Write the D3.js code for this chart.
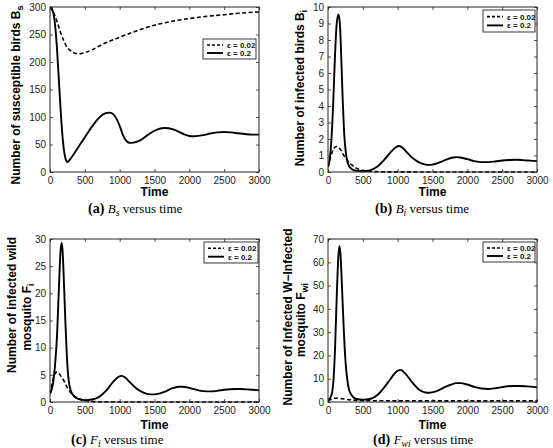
<!DOCTYPE html>
<html><head><meta charset="utf-8">
<script src="https://cdn.jsdelivr.net/npm/d3@7"></script>
<style>body{margin:0;background:#fff}</style>
</head><body>
<svg id="chart" width="553" height="448"></svg>
<script>
// ---------- data ----------
const timeTicks = [0, 500, 1000, 1500, 2000, 2500, 3000];
const legendLabels = ["\u03b5 = 0.02", "\u03b5 = 0.2"];

// (a) susceptible birds Bs
const tBsLow = [0, 50, 100, 150, 200, 250, 300, 350, 400, 450, 500, 600, 750, 1000, 1250, 1500, 1750, 2000, 2250, 2500, 2750, 3000];
const bsLow  = [300, 290, 274, 254, 238, 226, 220, 216.5, 215, 215.3, 217, 222, 232, 245, 257, 267, 274, 279, 283, 286, 289, 291];
const tBsHigh = [0, 25, 50, 75, 100, 125, 150, 175, 200, 225, 245, 270, 300, 350, 400, 500, 600, 700, 800, 850, 900, 950, 1000, 1050, 1100, 1150, 1200, 1300, 1400, 1500, 1600, 1650, 1700, 1800, 1900, 2000, 2050, 2100, 2200, 2300, 2400, 2500, 2600, 2700, 2800, 2900, 3000];
const bsHigh  = [300, 297, 288, 265, 225, 172, 118, 72, 40, 23, 18, 20, 25, 34, 44, 63, 82, 98, 107, 108, 106, 98, 84, 66, 56, 53, 53.5, 58, 67, 75, 79.5, 80, 79.5, 76, 70, 65.5, 65, 65.3, 67, 70, 72, 72.8, 72, 70.5, 69, 68, 68];

// (b) infected birds Bi
const tBiLow = [0, 30, 60, 90, 120, 150, 180, 220, 260, 300, 350, 400, 450, 500, 600, 700, 800, 1000, 3000];
const biLow  = [0.3, 0.8, 1.2, 1.45, 1.55, 1.5, 1.35, 1.05, 0.8, 0.6, 0.4, 0.25, 0.15, 0.09, 0.04, 0.02, 0.01, 0.005, 0.003];
const tBiHigh = [0, 25, 50, 75, 100, 125, 150, 170, 190, 210, 230, 255, 280, 300, 350, 400, 500, 600, 700, 800, 900, 975, 1020, 1060, 1120, 1200, 1300, 1400, 1450, 1500, 1600, 1700, 1800, 1850, 1900, 2000, 2100, 2200, 2300, 2400, 2500, 2600, 2700, 2800, 2900, 3000];
const biHigh  = [0.3, 0.8, 2, 4.2, 7, 9, 9.55, 9, 7, 4.5, 2.5, 1.2, 0.6, 0.38, 0.15, 0.08, 0.05, 0.1, 0.3, 0.7, 1.2, 1.5, 1.58, 1.5, 1.25, 0.9, 0.6, 0.45, 0.43, 0.45, 0.58, 0.75, 0.88, 0.9, 0.88, 0.78, 0.66, 0.6, 0.6, 0.64, 0.7, 0.73, 0.74, 0.72, 0.69, 0.66];

// (c) infected wild mosquito Fi
const tFiLow = [0, 25, 50, 75, 100, 125, 150, 200, 250, 300, 350, 400, 450, 500, 600, 700, 800, 1000, 3000];
const fiLow  = [1.5, 3, 4.5, 5.3, 5.5, 5.3, 4.9, 3.9, 2.6, 1.7, 1.1, 0.7, 0.45, 0.3, 0.12, 0.05, 0.02, 0.01, 0.005];
const tFiHigh = [0, 50, 80, 100, 125, 150, 165, 180, 200, 220, 240, 260, 280, 300, 350, 400, 500, 600, 700, 800, 900, 980, 1030, 1080, 1150, 1250, 1350, 1450, 1550, 1650, 1750, 1850, 1900, 2000, 2100, 2200, 2300, 2400, 2500, 2650, 2750, 2850, 3000];
const fiHigh  = [1.5, 4, 8, 12, 20, 27.5, 29.3, 28, 22, 15, 9, 5, 3, 2, 1, 0.6, 0.35, 0.45, 0.9, 2, 3.6, 4.6, 4.8, 4.5, 3.6, 2.4, 1.7, 1.4, 1.5, 1.9, 2.5, 2.8, 2.8, 2.6, 2.25, 2.0, 1.95, 2.05, 2.25, 2.4, 2.38, 2.3, 2.15];

// (d) infected W-infected mosquito Fwi
const tFwiLow = [0, 50, 100, 150, 200, 300, 400, 500, 1000, 2000, 3000];
const fwiLow  = [0.5, 1.2, 1.6, 1.6, 1.4, 1.0, 0.7, 0.55, 0.5, 0.5, 0.5];
const tFwiHigh = [0, 50, 80, 100, 125, 150, 165, 180, 200, 225, 250, 275, 300, 350, 400, 500, 600, 700, 800, 900, 980, 1040, 1100, 1200, 1300, 1400, 1450, 1550, 1650, 1750, 1850, 1900, 2000, 2100, 2200, 2300, 2400, 2500, 2650, 2750, 2850, 3000];
const fwiHigh  = [0.5, 3, 10, 22, 45, 63, 67, 63, 50, 32, 18, 10, 5.5, 2.5, 1.4, 1, 1.3, 2.8, 6, 10, 13, 13.8, 12.5, 8.8, 5.5, 4.1, 4, 4.6, 6, 7.3, 8.1, 8.1, 7.5, 6.5, 5.8, 5.6, 5.9, 6.4, 6.9, 6.9, 6.7, 6.3];

const yTicksBs  = [0, 50, 100, 150, 200, 250, 300];
const yTicksBi  = [0, 1, 2, 3, 4, 5, 6, 7, 8, 9, 10];
const yTicksFi  = [0, 5, 10, 15, 20, 25, 30];
const yTicksFwi = [0, 10, 20, 30, 40, 50, 60, 70];

// ---------- layout ----------
const zip = (t, v) => t.map((d, i) => [d, v[i]]);
const panels = [
  { box: [50, 259, 7, 172], yTicks: yTicksBs, low: zip(tBsLow, bsLow), high: zip(tBsHigh, bsHigh),
    leg: [203, 39, 53, 20],
    ylab: [{ x: 20, y: 95, parts: [["Number of susceptible birds B", 0], ["s", 1]] }],
    cap: { x: 88, y: 213, tag: "(a)", sym: "B", sub: "s" }, timeY: 196 },
  { box: [328, 537, 7, 172], yTicks: yTicksBi, low: zip(tBiLow, biLow), high: zip(tBiHigh, biHigh),
    leg: [483, 10, 52, 22],
    ylab: [{ x: 304, y: 88, parts: [["Number of infected birds B", 0], ["i", 1]] }],
    cap: { x: 375, y: 213, tag: "(b)", sym: "B", sub: "i" }, timeY: 196 },
  { box: [50, 259, 239, 402], yTicks: yTicksFi, low: zip(tFiLow, fiLow), high: zip(tFiHigh, fiHigh),
    leg: [204, 242, 54, 21],
    ylab: [{ x: 16, y: 305, parts: [["Number of infected wild", 0]] },
           { x: 31, y: 317, parts: [["mosquito F", 0], ["i", 1]] }],
    cap: { x: 71, y: 444, tag: "(c)", sym: "F", sub: "i" }, timeY: 428.5 },
  { box: [328, 537, 239, 402], yTicks: yTicksFwi, low: zip(tFwiLow, fwiLow), high: zip(tFwiHigh, fwiHigh),
    leg: [483, 242, 52, 20],
    ylab: [{ x: 292, y: 317, parts: [["Number of Infected W\u2212Infected", 0]] },
           { x: 305, y: 320, parts: [["mosquito F", 0], ["wi", 1]] }],
    cap: { x: 373, y: 444, tag: "(d)", sym: "F", sub: "wi" }, timeY: 428.5 }
];

const svg = d3.select("#chart");
svg.append("rect").attr("width", 553).attr("height", 448).attr("fill", "#fff");
const SANS = "'Liberation Sans', Arial, Helvetica, sans-serif";
const SERIF = "'Liberation Serif', 'Times New Roman', serif";
const AX = "#222";

panels.forEach((p, i) => {
  const [l, r, t, b] = p.box;
  const ymax = p.yTicks[p.yTicks.length - 1];
  const x = d3.scaleLinear().domain([0, 3000]).range([l, r]);
  const y = d3.scaleLinear().domain([0, ymax]).range([b, t]);
  const g = svg.append("g");

  const clipId = "clip" + i;
  g.append("clipPath").attr("id", clipId).append("rect")
    .attr("x", l).attr("y", t - 1).attr("width", r - l).attr("height", b - t + 2);

  const line = d3.line().x(d => x(d[0])).y(d => y(d[1])).curve(d3.curveMonotoneX);
  g.append("path").attr("d", line(p.low)).attr("fill", "none").attr("stroke", "#000")
    .attr("stroke-width", 1.6).attr("stroke-dasharray", "4,2.5").attr("clip-path", `url(#${clipId})`);
  g.append("path").attr("d", line(p.high)).attr("fill", "none").attr("stroke", "#000")
    .attr("stroke-width", 1.9).attr("clip-path", `url(#${clipId})`);

  const styleAxis = sel => {
    sel.select(".domain").remove();
    sel.selectAll(".tick line").attr("stroke", AX).attr("stroke-width", 0.8);
    sel.selectAll("text").attr("font-family", SANS).attr("font-size", 10).attr("fill", "#222");
  };
  g.append("g").attr("transform", `translate(0,${b})`)
    .call(d3.axisBottom(x).tickValues(timeTicks).tickSizeInner(-3).tickSizeOuter(0).tickPadding(5).tickFormat(d3.format("d")))
    .call(styleAxis);
  g.append("g").attr("transform", `translate(0,${t})`)
    .call(d3.axisTop(x).tickValues(timeTicks).tickSizeInner(-3).tickSizeOuter(0).tickFormat(""))
    .call(styleAxis);
  g.append("g").attr("transform", `translate(${l},0)`)
    .call(d3.axisLeft(y).tickValues(p.yTicks).tickSizeInner(-3).tickSizeOuter(0).tickPadding(4).tickFormat(d3.format("d")))
    .call(styleAxis);
  g.append("g").attr("transform", `translate(${r},0)`)
    .call(d3.axisRight(y).tickValues(p.yTicks).tickSizeInner(-3).tickSizeOuter(0).tickFormat(""))
    .call(styleAxis);
  g.append("rect").attr("x", l).attr("y", t).attr("width", r - l).attr("height", b - t)
    .attr("fill", "none").attr("stroke", AX).attr("stroke-width", 1);

  // legend
  const [lx, ly, lw, lh] = p.leg;
  g.append("rect").attr("x", lx).attr("y", ly).attr("width", lw).attr("height", lh)
    .attr("fill", "#fff").attr("stroke", AX).attr("stroke-width", 0.9);
  legendLabels.forEach((lab, k) => {
    const yy = ly + lh * (k === 0 ? 0.3 : 0.7);
    g.append("line").attr("x1", lx + 4).attr("x2", lx + 20).attr("y1", yy).attr("y2", yy)
      .attr("stroke", "#000").attr("stroke-width", k === 0 ? 1.6 : 1.9)
      .attr("stroke-dasharray", k === 0 ? "3,2" : null);
    g.append("text").attr("x", lx + 24).attr("y", yy + 3).text(lab)
      .attr("font-family", SANS).attr("font-size", 8).attr("font-weight", "bold").attr("fill", "#111");
  });

  // x label
  g.append("text").attr("x", (l + r) / 2).attr("y", p.timeY).attr("text-anchor", "middle")
    .attr("font-family", SANS).attr("font-size", 12).attr("font-weight", "bold").text("Time");

  // y label (centred manually on its measured length)
  p.ylab.forEach(yl => {
    const tx = g.append("text").attr("transform", `translate(${yl.x},${yl.y}) rotate(-90)`)
      .attr("x", 0).attr("y", 0)
      .attr("font-family", SANS).attr("font-size", 12).attr("font-weight", "bold");
    yl.parts.forEach(([s, sub]) => {
      const ts = tx.append("tspan").text(s);
      if (sub) ts.attr("font-size", 9).attr("baseline-shift", "-3");
    });
    const len = tx.node().getComputedTextLength();
    tx.attr("x", -len / 2);
  });

  // caption
  const c = p.cap;
  const ct = g.append("text").attr("x", c.x).attr("y", c.y).attr("font-family", SERIF).attr("font-size", 13);
  ct.append("tspan").attr("font-weight", "bold").attr("font-size", 14).text(c.tag + " ");
  ct.append("tspan").attr("font-style", "italic").text(c.sym);
  ct.append("tspan").attr("font-style", "italic").attr("font-size", 9.5).attr("baseline-shift", "-3").text(c.sub);
  ct.append("tspan").text(" versus time");
});
</script>
</body></html>
